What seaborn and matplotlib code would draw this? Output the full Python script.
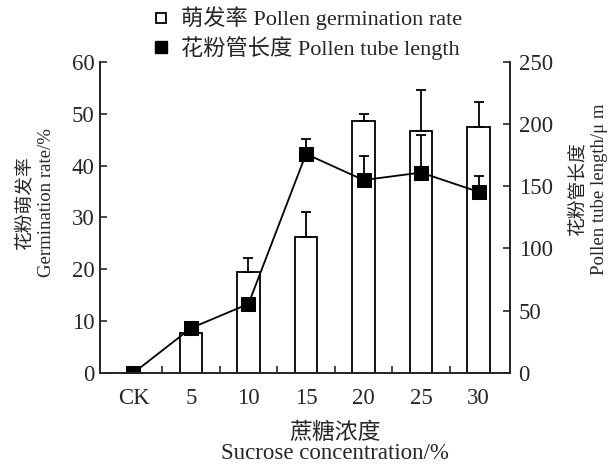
import numpy as np
import pandas as pd
import seaborn as sns
import matplotlib.pyplot as plt
from matplotlib.lines import Line2D
from matplotlib.ticker import FixedLocator

# data
categories = ['CK', '5', '10', '15', '20', '25', '30']
germination = [0, 7.7, 19.5, 26.3, 48.5, 46.7, 47.5]
germination_err = [0, 1.0, 2.7, 4.8, 1.5, 7.9, 4.8]
tube_length = [0, 36, 55.5, 176, 155, 161, 145.5]
tube_length_err = [0, 2, 1, 12, 19, 30, 13]

FONT = ['Liberation Serif', 'Noto Sans CJK SC', 'DejaVu Sans']
FS = 16.5      # ticks, x label
FS_LEG = 16
FS_Y = 13.5    # y labels are set smaller in the reference


def main():
    sns.set_style('ticks')
    plt.rcParams['font.family'] = FONT
    plt.rcParams['axes.linewidth'] = 1.3

    df = pd.DataFrame({'cat': categories, 'germ': germination,
                       'tube': tube_length})
    pos = np.arange(len(categories))

    fig = plt.figure(figsize=(6.14, 4.65), dpi=100)
    ax = fig.add_axes([0.163, 0.198, 0.668, 0.669])

    # germination rate bars (left axis)
    sns.barplot(data=df, x='cat', y='germ', order=categories, color='white',
                edgecolor='black', linewidth=1.3, width=0.39, ax=ax)
    ax.errorbar(pos, germination, yerr=[np.zeros(len(pos)), germination_err],
                fmt='none', ecolor='black', elinewidth=1.3, capsize=3.5,
                capthick=1.3, zorder=3)

    ax.set_ylim(0, 60)
    ax.set_xlim(-0.58, 6.55)
    ax.set_yticks(range(0, 61, 10))
    ax.tick_params(axis='y', direction='in', length=5, width=1.2,
                   labelsize=FS, pad=4)
    ax.tick_params(axis='x', which='major', length=0, labelsize=FS, pad=11)
    ax.xaxis.set_minor_locator(FixedLocator(pos[:-1] + 0.5))
    ax.tick_params(axis='x', which='minor', direction='in', length=5,
                   width=1.2)
    ax.set_xlabel('蔗糖浓度\nSucrose concentration/%', fontsize=FS,
                  linespacing=1.0)
    ax.xaxis.set_label_coords(0.573, -0.158)
    ax.xaxis.label.set_va('top')
    ax.set_ylabel('花粉萌发率\nGermination rate/%', fontsize=FS_Y,
                  linespacing=1.35)
    ax.yaxis.set_label_coords(-0.11, 0.547)
    ax.spines['top'].set_visible(False)

    # pollen tube length line (right axis)
    ax2 = ax.twinx()
    sns.lineplot(x=pos, y=tube_length, color='black', marker='s',
                 markersize=10, linewidth=1.3, markeredgecolor='black',
                 ax=ax2)
    ax2.errorbar(pos, tube_length, yerr=[np.zeros(len(pos)), tube_length_err],
                 fmt='none', ecolor='black', elinewidth=1.3, capsize=3.5,
                 capthick=1.3, zorder=1)
    ax2.set_ylim(0, 250)
    ax2.set_yticks(range(0, 251, 50))
    ax2.tick_params(axis='y', direction='in', length=5, width=1.2,
                    labelsize=FS, pad=6)
    ax2.set_ylabel('花粉管长度\nPollen tube length/μ m', fontsize=FS_Y,
                   rotation=90, linespacing=1.4)
    ax2.yaxis.set_label_coords(1.142, 0.59)
    ax2.spines['top'].set_visible(False)
    ax2.set_xlim(-0.58, 6.55)

    handles = [
        Line2D([], [], marker='s', linestyle='none', markerfacecolor='white',
               markeredgecolor='black', markersize=7, markeredgewidth=1.3),
        Line2D([], [], marker='s', linestyle='none', markerfacecolor='black',
               markeredgecolor='black', markersize=8),
    ]
    fig.legend(handles, ['萌发率 Pollen germination rate',
                         '花粉管长度 Pollen tube length'],
               loc='upper center', bbox_to_anchor=(0.5, 1.005), frameon=False,
               fontsize=FS_LEG, handlelength=0.8, handletextpad=0.5,
               labelspacing=0.25, borderaxespad=0)

    fig.savefig('out.png', dpi=100)


if __name__ == '__main__':
    main()
